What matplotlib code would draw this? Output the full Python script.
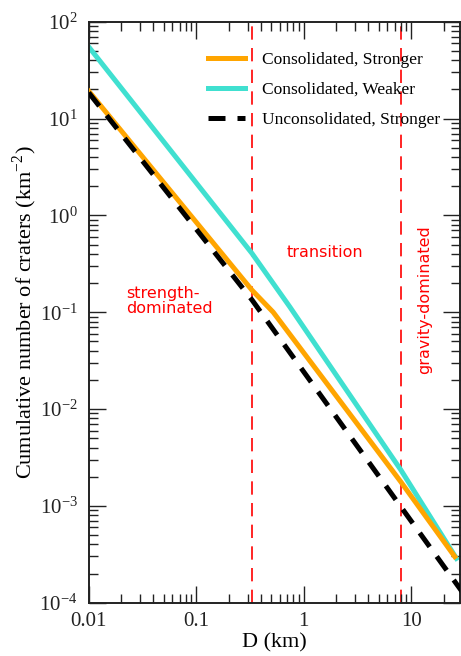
import numpy as np
import matplotlib
matplotlib.use("Agg")
import matplotlib.pyplot as plt
from matplotlib.ticker import FixedLocator, FixedFormatter, LogFormatterSciNotation, NullFormatter

plt.rcParams['font.family'] = ['Liberation Serif', 'DejaVu Serif']
plt.rcParams['mathtext.fontset'] = 'custom'
plt.rcParams['mathtext.rm'] = 'Liberation Serif'

# Kurven (D in km, kumulative Kraterdichte in km^-2)
d_cs = [0.01, 0.33, 0.52, 8.0, 25.4]
n_cs = [19.2, 0.169, 0.1, 1.77e-3, 2.99e-4]

d_cw = [0.01, 0.33, 0.74, 8.0, 26.3]
n_cw = [55.0, 0.405, 0.114, 2.35e-3, 2.87e-4]

d_us = [0.01, 0.33, 8.0, 30.0]
n_us = [18.5, 0.134, 9.8e-4, 1.28e-4]

# Grenzen der Regime
d_grenzen = [0.33, 8.0]

x_ticks = [0.01, 0.1, 1, 10]
x_labels = ['0.01', '0.1', '1', '10']
y_exps = [-4, -3, -2, -1, 0, 1, 2]

fig = plt.figure(figsize=(4.61, 6.56), dpi=100)
ax = fig.add_axes([88.7 / 461, 1 - 602.7 / 656, (459.5 - 88.7) / 461, (602.7 - 21.7) / 656])

ax.plot(d_cs, n_cs, color='#FFA500', lw=3.6, label='Consolidated, Stronger', zorder=3)
ax.plot(d_cw, n_cw, color='#40E0D0', lw=3.6, label='Consolidated, Weaker', zorder=2)
ax.plot(d_us, n_us, color='black', lw=3.6, ls=(0, (3.4, 2.4)), label='Unconsolidated, Stronger', zorder=4)

for d in d_grenzen:
    ax.axvline(d, color='red', lw=1.2, ls=(0, (8, 5)), zorder=1)

ax.set_xscale('log')
ax.set_yscale('log')
ax.set_xlim(0.01, 28.1)
ax.set_ylim(1e-4, 1e2)

# Minor-Ticks nur innerhalb des sichtbaren Bereichs
x_minor = [m * 10.0 ** e for e in range(-2, 2) for m in range(2, 10) if m * 10.0 ** e < 28.1]
y_minor = [m * 10.0 ** e for e in y_exps[:-1] for m in range(2, 10)]

ax.xaxis.set_major_locator(FixedLocator(x_ticks))
ax.xaxis.set_major_formatter(FixedFormatter(x_labels))
ax.xaxis.set_minor_locator(FixedLocator(x_minor))
ax.xaxis.set_minor_formatter(NullFormatter())
ax.yaxis.set_major_locator(FixedLocator([10.0 ** e for e in y_exps]))
ax.yaxis.set_major_formatter(LogFormatterSciNotation())
ax.yaxis.set_minor_locator(FixedLocator(y_minor))
ax.yaxis.set_minor_formatter(NullFormatter())

ax.tick_params(which='both', direction='in', top=True, right=True, width=1.0, colors='#222222')
ax.tick_params(which='major', length=12, labelsize=15)
ax.tick_params(which='minor', length=6.5)
ax.tick_params(axis='x', which='major', pad=7)
ax.tick_params(axis='y', which='major', pad=8)
for s in ax.spines.values():
    s.set_linewidth(1.4)
    s.set_color('#222222')

ax.set_xlabel('D (km)', fontsize=16, labelpad=1)
ax.set_ylabel('Cumulative number of craters (km$^{-2}$)', fontsize=16, labelpad=0)

ax.text(0.0225, 0.13, 'strength-\ndominated', color='red', fontsize=11.5,
        family='DejaVu Sans', ha='left', va='center', linespacing=1.05)
ax.text(1.57, 0.41, 'transition', color='red', fontsize=11.5,
        family='DejaVu Sans', ha='center', va='center')
ax.text(13.4, 0.134, 'gravity-dominated', color='red', fontsize=11.5,
        family='DejaVu Sans', ha='center', va='center', rotation=90)

ax.legend(loc='upper left', bbox_to_anchor=(0.323, 0.948), frameon=False, fontsize=12.5,
          handlelength=2.1, handletextpad=1.0, labelspacing=0.8, borderpad=0, borderaxespad=0)

fig.savefig('out.png', dpi=100)
